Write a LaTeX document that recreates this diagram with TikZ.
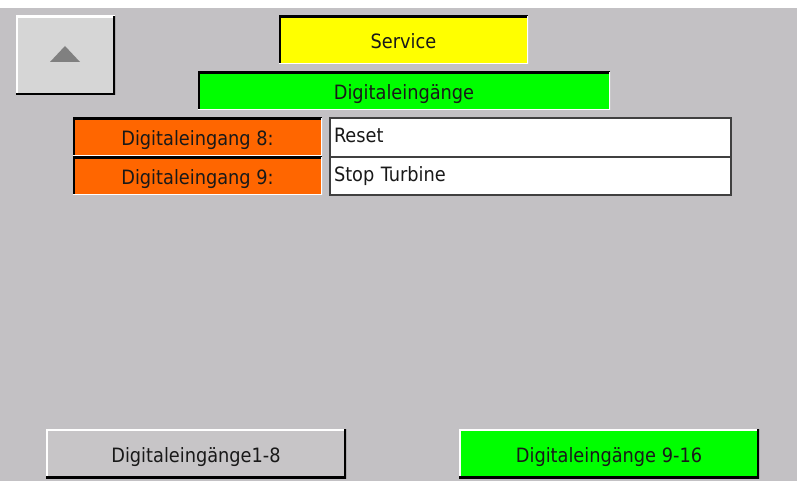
\documentclass[tikz,border=0pt]{standalone}
\usepackage{fontspec}
\setmainfont{DejaVu Sans Condensed}
\begin{document}
\definecolor{panelgray}{RGB}{195,193,196}
\definecolor{btngray}{RGB}{199,197,199}
\definecolor{upgray}{RGB}{214,214,214}
\definecolor{arrowgray}{RGB}{128,128,128}
\definecolor{hmiorange}{RGB}{255,102,0}
\definecolor{hmigreen}{RGB}{0,255,0}
\definecolor{hmiyellow}{RGB}{255,255,0}
\definecolor{fieldframe}{RGB}{64,64,64}
\definecolor{ink}{RGB}{25,25,25}
\begin{tikzpicture}[x=0.75pt,y=-0.75pt,
  box/.style 2 args={minimum width=#1*0.75pt, minimum height=#2*0.75pt,
    anchor=north west, inner sep=0pt, outer sep=0pt,
    text height=13.4pt, text depth=0pt, text=ink,
    font=\fontsize{14.8pt}{17pt}\selectfont},
  sunken/.style={path picture={
    \draw[black,line width=3pt] (path picture bounding box.south west) -- (path picture bounding box.north west) -- (path picture bounding box.north east);
    \draw[white,line width=2pt] (path picture bounding box.north east) -- (path picture bounding box.south east) -- (path picture bounding box.south west);}},
  raised/.style={path picture={
    \draw[white,line width=2.5pt] (path picture bounding box.south west) -- (path picture bounding box.north west) -- (path picture bounding box.north east);
    \draw[black,line width=3.5pt] (path picture bounding box.north east) -- (path picture bounding box.south east) -- (path picture bounding box.south west);}},
  field/.style={draw=fieldframe, line width=0.9pt, fill=white,
    text width=393*0.75pt, align=left, inner xsep=3pt, text depth=5.8pt}
]
% screen area
\useasboundingbox (0,0) rectangle (797,481);
\fill[white] (0,0) rectangle (797,8);
\fill[panelgray] (0,8) rectangle (797,481);

% back button with arrow
\node[box={99}{79}, fill=upgray, raised] (up) at (16,16) {};
\fill[arrowgray] (50,62) -- (80,62) -- (65,46) -- cycle;

% headings
\node[box={249}{48}, fill=hmiyellow, sunken] (service) at (279,16) {Service};
\node[box={412}{38}, fill=hmigreen, sunken] (title) at (198,72) {Digitaleingänge};

% input labels
\node[box={249}{38}, fill=hmiorange, sunken] (lbl8) at (73,118) {Digitaleingang 8:};
\node[box={249}{38}, fill=hmiorange, sunken] (lbl9) at (73,157) {Digitaleingang 9:};

% input texts
\node[box={401}{39}, field] (val8) at (330,118) {Reset};
\node[box={401}{38}, field] (val9) at (330,157) {Stop Turbine};

% page buttons
\node[box={300}{49}, fill=btngray, raised] (page1) at (46,429) {Digitaleingänge1-8};
\node[box={300}{49}, fill=hmigreen, raised] (page2) at (459,429) {Digitaleingänge 9-16};
\end{tikzpicture}
\end{document}
